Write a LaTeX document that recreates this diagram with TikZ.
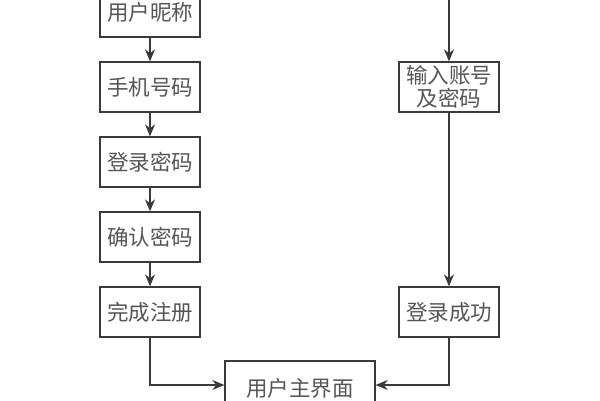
\documentclass[tikz,border=0pt]{standalone}
\usepackage{fontspec}
\setmainfont{Noto Sans CJK SC}
\usetikzlibrary{arrows.meta}
\definecolor{ln}{HTML}{3A3A3A}
\definecolor{tx}{HTML}{555555}
\begin{document}
\begin{tikzpicture}[x=1pt,y=-1pt,
  box/.style={draw=ln,line width=1.3pt,minimum width=100pt,minimum height=50pt,inner sep=0pt,
    text=tx,font=\fontsize{21.5}{22.5}\selectfont,align=center},
  arr/.style={draw=ln,line width=1.2pt,-{Stealth[length=12pt,width=10pt]}},
  ln/.style={draw=ln,line width=1.2pt}]
\clip (0,0) rectangle (600,400);
\node[box] (b1) at (150,12) {用户昵称};
\node[box] (b2) at (150,87) {手机号码};
\node[box] (b3) at (150,162) {登录密码};
\node[box] (b4) at (150,237) {确认密码};
\node[box] (b5) at (150,312) {完成注册};
\node[box] (r1) at (449,87) {输入账号\\及密码};
\node[box] (r2) at (449,312) {登录成功};
\node[box,minimum width=150pt,minimum height=54pt] (m) at (300,388) {用户主界面};
\coordinate (top) at (449,-5);
\draw[arr] (b1) -- (b2);
\draw[arr] (b2) -- (b3);
\draw[arr] (b3) -- (b4);
\draw[arr] (b4) -- (b5);
\draw[arr] (top) -- (r1);
\draw[arr] (r1) -- (r2);
\draw[arr] (b5.south) |- (m.west |- 0,385);
\draw[arr] (r2.south) |- (m.east |- 0,385);
\end{tikzpicture}
\end{document}
